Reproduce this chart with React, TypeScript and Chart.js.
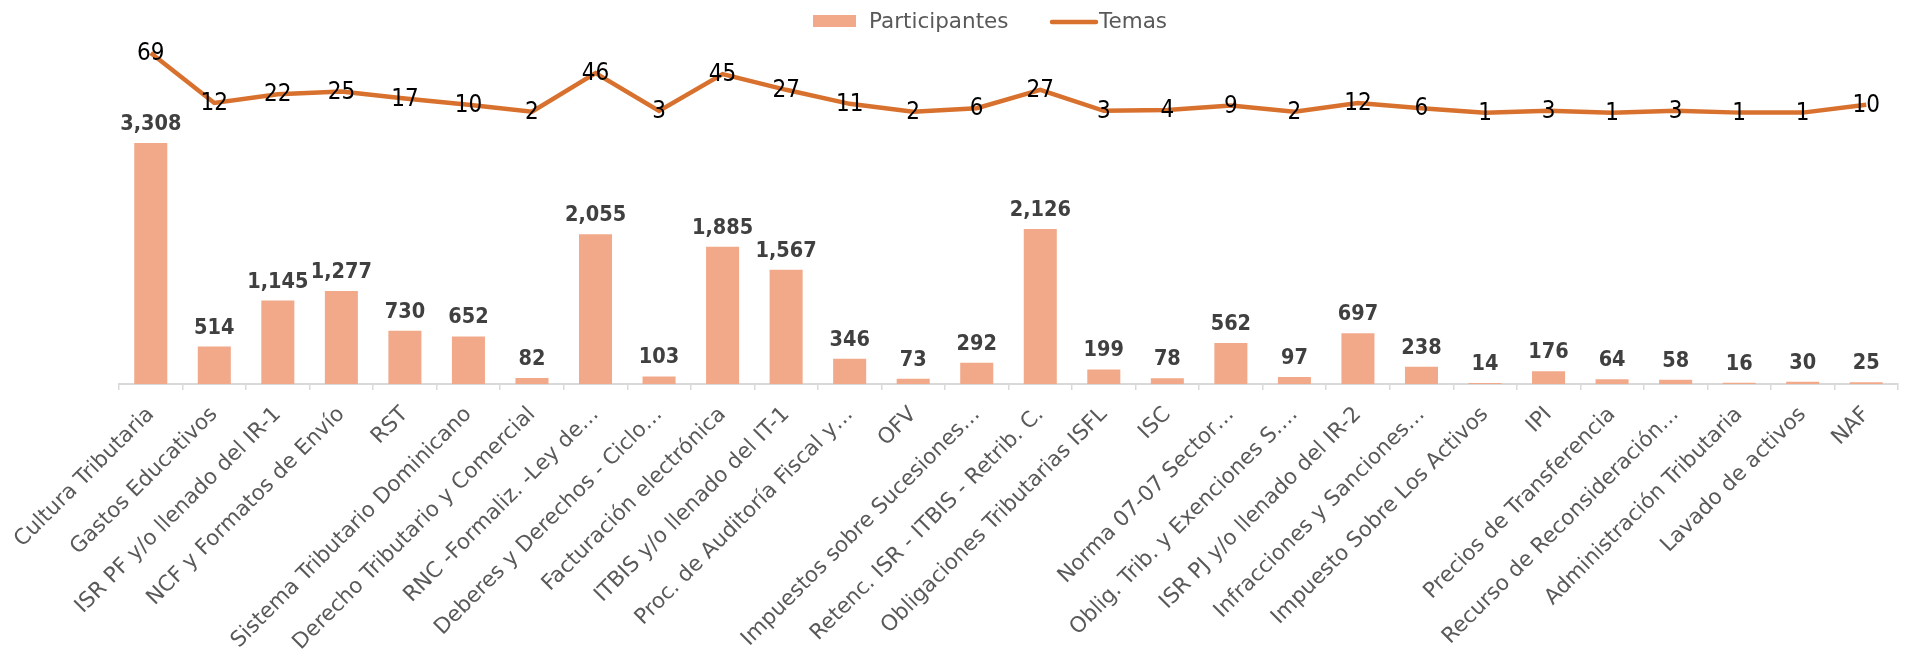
import React, { useEffect, useRef } from "react";
import { Chart, registerables } from "chart.js";

Chart.register(...registerables);

const categories = [
  "Cultura Tributaria",
  "Gastos Educativos",
  "ISR PF y/o llenado del IR-1",
  "NCF y Formatos de Envío",
  "RST",
  "Sistema Tributario Dominicano",
  "Derecho Tributario y Comercial",
  "RNC -Formaliz. -Ley de…",
  "Deberes y Derechos - Ciclo…",
  "Facturación electrónica",
  "ITBIS y/o llenado del IT-1",
  "Proc. de Auditoría Fiscal y…",
  "OFV",
  "Impuestos sobre Sucesiones…",
  "Retenc. ISR - ITBIS - Retrib. C.",
  "Obligaciones Tributarias ISFL",
  "ISC",
  "Norma 07-07 Sector…",
  "Oblig. Trib. y Exenciones S.…",
  "ISR PJ y/o llenado del IR-2",
  "Infracciones y Sanciones…",
  "Impuesto Sobre Los Activos",
  "IPI",
  "Precios de Transferencia",
  "Recurso de Reconsideración…",
  "Administración Tributaria",
  "Lavado de activos",
  "NAF",
];

const participantes = [
  3308, 514, 1145, 1277, 730, 652, 82, 2055, 103, 1885, 1567, 346, 73, 292,
  2126, 199, 78, 562, 97, 697, 238, 14, 176, 64, 58, 16, 30, 25,
];

const temas = [
  69, 12, 22, 25, 17, 10, 2, 46, 3, 45, 27, 11, 2, 6, 27, 3, 4, 9, 2, 12, 6,
  1, 3, 1, 3, 1, 1, 10,
];

const seriesNames = ["Participantes", "Temas"];

const BAR_COLOR = "#F1A98A";
const LINE_COLOR = "#D8712E";
const FONT = "'DejaVu Sans', 'Open Sans', sans-serif";
const FONT_COND = "'DejaVu Sans Condensed', 'DejaVu Sans', sans-serif";

const dataLabelsPlugin = {
  id: "dataLabelsCustom",
  afterDatasetsDraw(chart: any) {
    const ctx = chart.ctx;
    ctx.save();
    chart.data.datasets.forEach((ds: any, di: number) => {
      const meta = chart.getDatasetMeta(di);
      meta.data.forEach((el: any, i: number) => {
        const v = ds.data[i];
        if (ds.type === "bar") {
          ctx.font = `bold 21.5px ${FONT_COND}`;
          ctx.fillStyle = "#404040";
          ctx.textAlign = "center";
          ctx.textBaseline = "alphabetic";
          ctx.fillText(v.toLocaleString("en-US"), el.x, el.y - 13);
        } else {
          ctx.font = `24px ${FONT_COND}`;
          ctx.fillStyle = "#000000";
          ctx.textAlign = "center";
          ctx.textBaseline = "middle";
          ctx.fillText(String(v), el.x, el.y + 1);
        }
      });
    });
    ctx.restore();
  },
};

const legendPlugin = {
  id: "customLegend",
  afterDraw(chart: any) {
    const ctx = chart.ctx;
    ctx.save();
    ctx.font = `21.5px ${FONT}`;
    ctx.textBaseline = "middle";
    ctx.textAlign = "left";
    const y = 21;
    let x = 813;
    ctx.fillStyle = BAR_COLOR;
    ctx.fillRect(x, y - 6, 43, 12);
    ctx.fillStyle = "#595959";
    ctx.fillText(seriesNames[0], x + 56, y + 1);
    x = 1052;
    ctx.strokeStyle = LINE_COLOR;
    ctx.lineWidth = 4.5;
    ctx.lineCap = "round";
    ctx.beginPath();
    ctx.moveTo(x, y + 1);
    ctx.lineTo(x + 44, y + 1);
    ctx.stroke();
    ctx.fillStyle = "#595959";
    ctx.fillText(seriesNames[1], x + 47, y + 1);
    ctx.restore();
  },
};

export default function App() {
  const ref = useRef<HTMLCanvasElement | null>(null);

  useEffect(() => {
    if (!ref.current) return;
    const chart = new Chart(ref.current, {
      data: {
        labels: categories,
        datasets: [
          {
            type: "line",
            label: seriesNames[1],
            data: temas,
            borderColor: LINE_COLOR,
            backgroundColor: LINE_COLOR,
            borderWidth: 4.5,
            pointRadius: 0,
            tension: 0,
            yAxisID: "y1",
            order: 0,
          },
          {
            type: "bar",
            label: seriesNames[0],
            data: participantes,
            backgroundColor: BAR_COLOR,
            borderWidth: 0,
            barPercentage: 0.52,
            categoryPercentage: 1,
            yAxisID: "y",
            order: 1,
          },
        ] as any,
      },
      options: {
        responsive: false,
        animation: false,
        layout: { padding: { top: 40, left: 0, right: 0, bottom: 0 } },
        plugins: {
          legend: { display: false },
          tooltip: { enabled: false },
        },
        scales: {
          x: {
            offset: true,
            grid: {
              offset: true,
              drawOnChartArea: false,
              drawTicks: true,
              tickLength: 6,
              color: "#D9D9D9",
              lineWidth: 1.5,
            },
            border: { display: true, color: "#D9D9D9", width: 2 },
            ticks: {
              autoSkip: false,
              minRotation: 45,
              maxRotation: 45,
              padding: 12,
              color: "#595959",
              font: { family: FONT, size: 21.5 },
            },
            afterFit(scale: any) {
              scale.height = 265;
              scale.paddingLeft = 119;
              scale.paddingRight = 8;
            },
          },
          y: {
            display: false,
            min: 0,
            max: 4721,
          },
          y1: {
            display: false,
            position: "right",
            min: -308.4,
            max: 83.8,
          },
        },
      } as any,
      plugins: [dataLabelsPlugin, legendPlugin],
    });
    return () => chart.destroy();
  }, []);

  return (
    <div style={{ position: "fixed", left: 0, top: 0, width: 1906, height: 649, background: "#fff" }}>
      <canvas ref={ref} width={1906} height={649} style={{ display: "block" }} />
    </div>
  );
}
